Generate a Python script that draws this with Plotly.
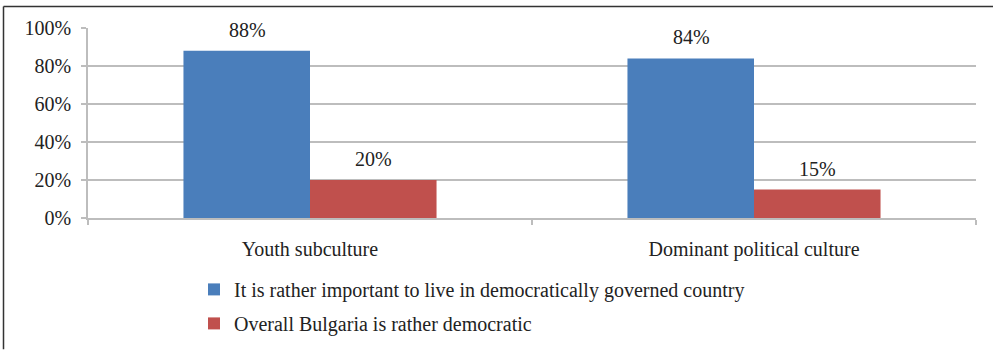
import plotly.graph_objects as go

# Survey shares by cultural segment
categories = ["Youth subculture", "Dominant political culture"]
important_to_live_democratically = [0.88, 0.84]
bulgaria_rather_democratic = [0.20, 0.15]
series_names = [
    "It is rather important to live in democratically governed country",
    "Overall Bulgaria is rather democratic",
]
y_tick_values = [0, 0.2, 0.4, 0.6, 0.8, 1.0]
y_tick_labels = ["0%", "20%", "40%", "60%", "80%", "100%"]

BLUE = "#4A7EBB"
RED = "#C0504D"
GRID = "#BDBDBD"
FONT = "Liberation Serif"
FS = 20

W, H = 1000, 355
M_L, M_R, M_T, M_B = 88, 24, 28, 133
PW = W - M_L - M_R
PH = H - M_T - M_B


def px_to_paper_x(px):
    return (px - M_L) / PW


def px_to_paper_y(py):
    return (H - M_B - py) / PH


fig = go.Figure()
series = [important_to_live_democratically, bulgaria_rather_democratic]
colors = [BLUE, RED]
for i, (name, vals, col) in enumerate(zip(series_names, series, colors)):
    fig.add_trace(go.Bar(
        x=categories, y=vals, name=name,
        marker=dict(color=col, line=dict(width=0)),
        legendgroup=f"g{i}",
    ))

# Value labels above each bar
bar_half = 63
for vals, shift in zip(series, [-bar_half, bar_half]):
    for cat, v in zip(categories, vals):
        fig.add_annotation(
            x=cat, y=v, xref="x", yref="y",
            text=f"{round(v * 100)}%", showarrow=False,
            xshift=shift, yshift=8, yanchor="bottom",
            font=dict(family=FONT, size=FS, color="#222222"),
        )

# Outer frame (left and top edges)
frame = dict(color="#333333", width=1.5)
fig.add_shape(type="line", xref="paper", yref="paper",
              x0=px_to_paper_x(3.5), x1=px_to_paper_x(3.5),
              y0=px_to_paper_y(6), y1=px_to_paper_y(356), line=frame)
fig.add_shape(type="line", xref="paper", yref="paper",
              x0=px_to_paper_x(3.5), x1=px_to_paper_x(993),
              y0=px_to_paper_y(6), y1=px_to_paper_y(6), line=frame)

fig.update_layout(
    width=W, height=H,
    margin=dict(l=M_L, r=M_R, t=M_T, b=M_B, pad=0),
    paper_bgcolor="white", plot_bgcolor="white",
    barmode="group", bargap=0.43, bargroupgap=0,
    font=dict(family=FONT, size=FS, color="#222222"),
    showlegend=True,
    legend=dict(
        orientation="v", x=px_to_paper_x(194), y=px_to_paper_y(275),
        xanchor="left", yanchor="top",
        traceorder="grouped", tracegroupgap=5,
        font=dict(family=FONT, size=FS, color="#222222"),
        bgcolor="rgba(0,0,0,0)",
    ),
)
fig.update_yaxes(
    range=[0, 1], tickvals=y_tick_values, ticktext=y_tick_labels,
    tickfont=dict(family=FONT, size=FS, color="#222222"),
    showgrid=True, gridcolor=GRID, gridwidth=1.5,
    showline=True, linecolor=GRID, linewidth=1.5,
    ticks="outside", ticklen=5, tickcolor=GRID, tickwidth=1.5,
    ticklabelstandoff=6, zeroline=False,
)
fig.update_xaxes(
    tickfont=dict(family=FONT, size=FS, color="#222222"),
    showline=True, linecolor=GRID, linewidth=1.5,
    ticks="outside", ticklen=5, tickcolor=GRID, tickwidth=1.5,
    tickson="boundaries", ticklabelstandoff=12, showgrid=False,
)

fig.write_html("out.html")
